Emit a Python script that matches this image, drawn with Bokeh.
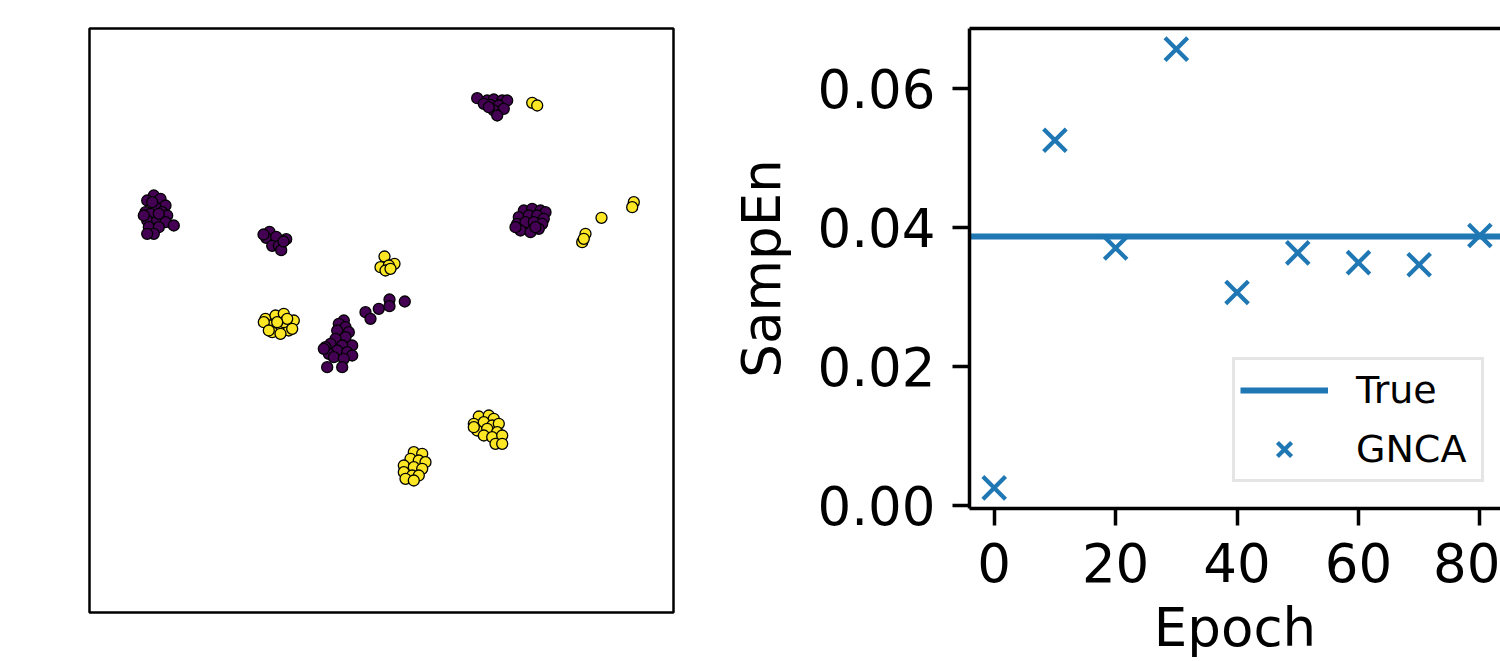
from bokeh.plotting import figure
from bokeh.layouts import row
from bokeh.models import Range1d, FixedTicker, NumeralTickFormatter, LinearAxis
from bokeh.embed import file_html
from bokeh.resources import INLINE

FONT = "DejaVu Sans"

# ---------------- left panel: 2-D embedding (arbitrary units) ----------------
class0_x = [64.3, 71, 57.7, 76, 56, 66, 61, 72.7, 77.7, 57.7, 67.7, 76, 84.3, 59.3, 69.3, 64.3, 57.7, 54.3, 69.3, 62.7,
            180, 176.7, 186.7, 196.7, 182.7, 189.3, 191.7, 174, 194,
            254.3, 249.3, 256, 247.7, 259.3, 256, 246, 262.7, 241, 252.7, 236, 247.7, 257.7, 239.3, 262.7, 244.3, 254.3,
            237.7, 252.7, 234.3, 276, 281, 289.3, 300, 300, 315.3,
            387.7, 397.7, 404.3, 412.7, 417.7, 401, 409.3, 394.3, 414.3, 404.3, 407.7, 399.3,
            434.3, 442.7, 451, 456, 429.3, 439.3, 447.7, 454.3, 427.7, 436, 444.3, 452.7, 431, 441, 449.3, 426, 446]
class0_y = [417, 413.7, 412, 407, 400.3, 405.3, 398.7, 400.3, 397, 392, 392, 390.3, 387, 385.3, 385.3, 378.7, 378.7, 397, 398.7, 410.3,
            380.7, 374.7, 375.7, 373.3, 366.7, 366.7, 362.3, 378, 371,
            292, 288.7, 285.3, 282, 280.3, 275.3, 273.7, 267, 268.7, 267, 265.3, 262, 260.3, 258.7, 257, 255.3, 253.7,
            245.3, 245.3, 263.7, 300.3, 293.7, 303.7, 313, 306.3, 311,
            514.3, 512, 513, 512, 512, 507.7, 507, 508.7, 503.7, 502, 497, 505.3,
            402, 403.7, 402, 400.3, 395.3, 397, 397, 393.7, 388.7, 390.3, 390.3, 388.7, 382, 380.3, 383.7, 385.3, 385.3]
class1_x = [176, 186, 194.3, 204.3, 181, 189.3, 199.3, 174.3, 182.7, 194.3, 202.7, 179.3, 191, 197.7, 187.7,
            295, 305, 291, 299.3, 296, 301,
            442.7, 447.7,
            512, 544.3, 542.7, 496, 492.7, 494.3,
            389.3, 399.3, 404.3, 384.3, 394.3, 402.7, 409.3, 387.7, 397.7, 407.7, 394.3, 402.7, 412.7, 406, 412.7, 384.3,
            324.3, 332.7, 321, 329.3, 336, 314.3, 324.3, 332.7, 314.3, 322.7, 329.3, 316, 324.3]
class1_y = [293.7, 297, 298.7, 292, 287, 283.7, 282, 290.3, 280.3, 290.3, 283.7, 282, 278.7, 293.7, 290.3,
            356, 348.7, 345.3, 347, 342, 343.7,
            509.7, 507,
            394.7, 410.3, 405.3, 378.7, 370.3, 373.7,
            196, 197, 193.7, 188.7, 190.3, 187, 188.7, 182, 183.7, 180.3, 177, 175.3, 177, 168.7, 168.7, 185.3,
            160.3, 158.7, 153.7, 152, 150.3, 147, 145.3, 143.7, 140.3, 137, 137, 133.7, 132]

# ---------------- right panel: SampEn vs epoch ----------------
epochs = [0, 10, 20, 30, 40, 50, 60, 70, 80]
gnca_sampen = [0.0026, 0.0526, 0.0371, 0.0657, 0.0307, 0.0364, 0.0350, 0.0347, 0.0389]
true_sampen = 0.03875
x_ticks = [0, 20, 40, 60, 80]
y_ticks = [0.00, 0.02, 0.04, 0.06]

# ---------------- left figure ----------------
p1 = figure(width=700, height=661, output_backend="svg", toolbar_location=None,
            x_range=Range1d(0, 584), y_range=Range1d(0, 584),
            min_border_left=89, min_border_right=27, min_border_top=28, min_border_bottom=49)
p1.axis.visible = False
p1.grid.visible = False
p1.outline_line_color = "black"
p1.outline_line_width = 2.5
p1.background_fill_color = "white"
p1.border_fill_color = "white"
p1.scatter(class0_x, class0_y, size=11, fill_color="#440154", line_color="black", line_width=1.3)
p1.scatter(class1_x, class1_y, size=11, fill_color="#fde725", line_color="black", line_width=1.3)

# ---------------- right figure ----------------
x_lo, x_hi = -4.07, 83.4
y_lo, y_hi = -0.00036, 0.06867
p2 = figure(width=800, height=661, output_backend="svg", toolbar_location=None,
            x_range=Range1d(x_lo, x_hi), y_range=Range1d(y_lo, y_hi),
            min_border_left=269, min_border_right=0, min_border_top=28, min_border_bottom=153)
p2.grid.visible = False
p2.outline_line_color = None
p2.background_fill_color = "white"
p2.border_fill_color = "white"

for p in (p1, p2):
    if "frame_align" in p.properties():
        p.frame_align = False

blue = "#1f77b4"
p2.line([x_lo, x_hi], [true_sampen, true_sampen], line_width=6, color=blue, legend_label="True")
p2.scatter(epochs, gnca_sampen, marker="x", size=32, line_width=4.2, color=blue, legend_label="GNCA")

for ax in (p2.xaxis[0], p2.yaxis[0]):
    ax.axis_line_width = 3.5
    ax.major_tick_line_width = 3.5
    ax.major_tick_in = 0
    ax.major_tick_out = 17
    ax.minor_tick_line_color = None
    ax.major_label_standoff = 17
    ax.major_label_text_font = FONT
    ax.major_label_text_font_size = "53px"
    ax.major_label_text_color = "black"
    ax.axis_label_text_font = FONT
    ax.axis_label_text_font_size = "53px"
    ax.axis_label_text_font_style = "normal"
    ax.axis_label_text_color = "black"

p2.xaxis.ticker = FixedTicker(ticks=x_ticks)
p2.yaxis.ticker = FixedTicker(ticks=y_ticks)
p2.yaxis.formatter = NumeralTickFormatter(format="0.00")
p2.yaxis.axis_label = "SampEn"
p2.yaxis.axis_label_standoff = 22
p2.xaxis.axis_label = "Epoch"
p2.xaxis.axis_label_standoff = 12

top_axis = LinearAxis(ticker=FixedTicker(ticks=[]), major_label_text_font_size="0px",
                      major_tick_in=0, major_tick_out=0, major_label_standoff=0,
                      axis_line_width=3.5, minor_tick_line_color=None)
p2.add_layout(top_axis, "above")

leg = p2.legend[0]
leg.location = (263, 26)
leg.label_text_font = FONT
leg.label_text_font_size = "38px"
leg.label_text_color = "black"
leg.glyph_width = 88
leg.glyph_height = 50
leg.label_standoff = 28
leg.label_width = 120
leg.spacing = 9
leg.padding = 5
leg.margin = 0
leg.border_line_color = "#cccccc"
leg.border_line_width = 3
leg.background_fill_color = "white"
leg.background_fill_alpha = 0.8

layout = row(p1, p2)
open("out.html", "w").write(file_html(layout, INLINE))
